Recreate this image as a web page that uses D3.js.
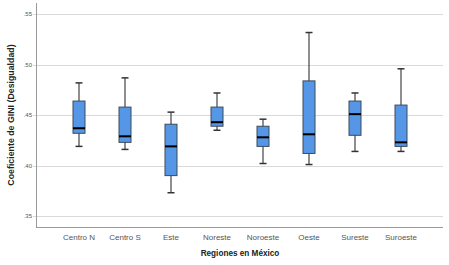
<!DOCTYPE html>
<html>
<head>
<meta charset="utf-8">
<script src="https://cdn.jsdelivr.net/npm/d3@7"></script>
<style>
  body { margin: 0; background: #fff; }
  text { font-family: "Liberation Sans", Arial, sans-serif; }
</style>
</head>
<body>
<div id="chart"></div>
<script>
var regions = ["Centro N", "Centro S", "Este", "Noreste", "Noroeste", "Oeste", "Sureste", "Suroeste"];
var whiskerLow  = [0.419, 0.416, 0.373, 0.435, 0.402, 0.401, 0.414, 0.414];
var q1          = [0.432, 0.423, 0.390, 0.439, 0.419, 0.412, 0.430, 0.419];
var medians     = [0.437, 0.429, 0.419, 0.443, 0.428, 0.431, 0.451, 0.423];
var q3          = [0.464, 0.458, 0.441, 0.458, 0.439, 0.484, 0.464, 0.460];
var whiskerHigh = [0.482, 0.487, 0.453, 0.472, 0.446, 0.532, 0.472, 0.496];
var yTicks = [0.35, 0.40, 0.45, 0.50, 0.55];

var width = 449, height = 265;
var margin = {top: 3, right: 6, bottom: 38, left: 36};
var plotW = width - margin.left - margin.right,
    plotH = height - margin.top - margin.bottom;

var svg = d3.select("#chart").append("svg")
    .attr("width", width)
    .attr("height", height)
  .append("g")
    .attr("transform", "translate(" + margin.left + "," + margin.top + ")");

var x = d3.scalePoint()
    .domain(regions)
    .range([43, 365]);
var y = d3.scaleLinear()
    .domain([0.339, 0.5613])
    .range([plotH, 0]);

var boxes = regions.map(function(r, i) {
  return {name: r, lo: whiskerLow[i], q1: q1[i], med: medians[i], q3: q3[i], hi: whiskerHigh[i]};
});

// gridlines
svg.selectAll(".grid")
    .data(yTicks)
  .enter().append("line")
    .attr("class", "grid")
    .attr("x1", -3).attr("x2", plotW)
    .attr("y1", function(d) { return Math.round(y(d)) + 0.5; })
    .attr("y2", function(d) { return Math.round(y(d)) + 0.5; })
    .attr("stroke", "#d9d9d9")
    .attr("stroke-width", 1);

// y labels
svg.selectAll(".ylab")
    .data(yTicks)
  .enter().append("text")
    .attr("x", -4)
    .attr("y", function(d) { return y(d) + 2; })
    .attr("text-anchor", "end")
    .attr("font-size", "6px")
    .attr("fill", "#555")
    .text(function(d) { return d3.format(".2f")(d).replace(/^0/, ""); });

// axes lines
svg.append("line")
    .attr("x1", 0.5).attr("x2", 0.5)
    .attr("y1", 0).attr("y2", plotH)
    .attr("stroke", "#999");
svg.append("line")
    .attr("x1", 0).attr("x2", plotW)
    .attr("y1", plotH + 0.5).attr("y2", plotH + 0.5)
    .attr("stroke", "#999");

var g = svg.selectAll(".box")
    .data(boxes)
  .enter().append("g")
    .attr("class", "box");

var bw = 12, cw = 7;

g.append("line")
    .attr("x1", function(d) { return x(d.name); })
    .attr("x2", function(d) { return x(d.name); })
    .attr("y1", function(d) { return y(d.hi); })
    .attr("y2", function(d) { return y(d.lo); })
    .attr("stroke", "#444")
    .attr("stroke-width", 1.2);

g.append("line")
    .attr("x1", function(d) { return x(d.name) - cw / 2; })
    .attr("x2", function(d) { return x(d.name) + cw / 2; })
    .attr("y1", function(d) { return y(d.hi); })
    .attr("y2", function(d) { return y(d.hi); })
    .attr("stroke", "#333")
    .attr("stroke-width", 1.5);

g.append("line")
    .attr("x1", function(d) { return x(d.name) - cw / 2; })
    .attr("x2", function(d) { return x(d.name) + cw / 2; })
    .attr("y1", function(d) { return y(d.lo); })
    .attr("y2", function(d) { return y(d.lo); })
    .attr("stroke", "#333")
    .attr("stroke-width", 1.5);

g.append("rect")
    .attr("x", function(d) { return x(d.name) - bw / 2; })
    .attr("width", bw)
    .attr("y", function(d) { return y(d.q3); })
    .attr("height", function(d) { return y(d.q1) - y(d.q3); })
    .attr("fill", "#5597e6")
    .attr("stroke", "#3d4a5a")
    .attr("stroke-width", 1);

g.append("line")
    .attr("x1", function(d) { return x(d.name) - bw / 2; })
    .attr("x2", function(d) { return x(d.name) + bw / 2; })
    .attr("y1", function(d) { return y(d.med); })
    .attr("y2", function(d) { return y(d.med); })
    .attr("stroke", "#000")
    .attr("stroke-width", 2);

// x labels
svg.selectAll(".xlab")
    .data(regions)
  .enter().append("text")
    .attr("x", function(d) { return x(d); })
    .attr("y", plotH + 13)
    .attr("text-anchor", "middle")
    .attr("font-size", "8px")
    .attr("fill", "#555")
    .text(function(d) { return d; });

svg.append("text")
    .attr("x", 204)
    .attr("y", plotH + 29)
    .attr("text-anchor", "middle")
    .attr("font-size", "8.2px")
    .attr("font-weight", "bold")
    .attr("fill", "#222")
    .text("Regiones en México");

svg.append("text")
    .attr("transform", "translate(-22," + (115 - margin.top) + ") rotate(-90)")
    .attr("text-anchor", "middle")
    .attr("font-size", "8.8px")
    .attr("font-weight", "bold")
    .attr("fill", "#222")
    .text("Coeficiente de GINI (Desigualdad)");
</script>
</body>
</html>
